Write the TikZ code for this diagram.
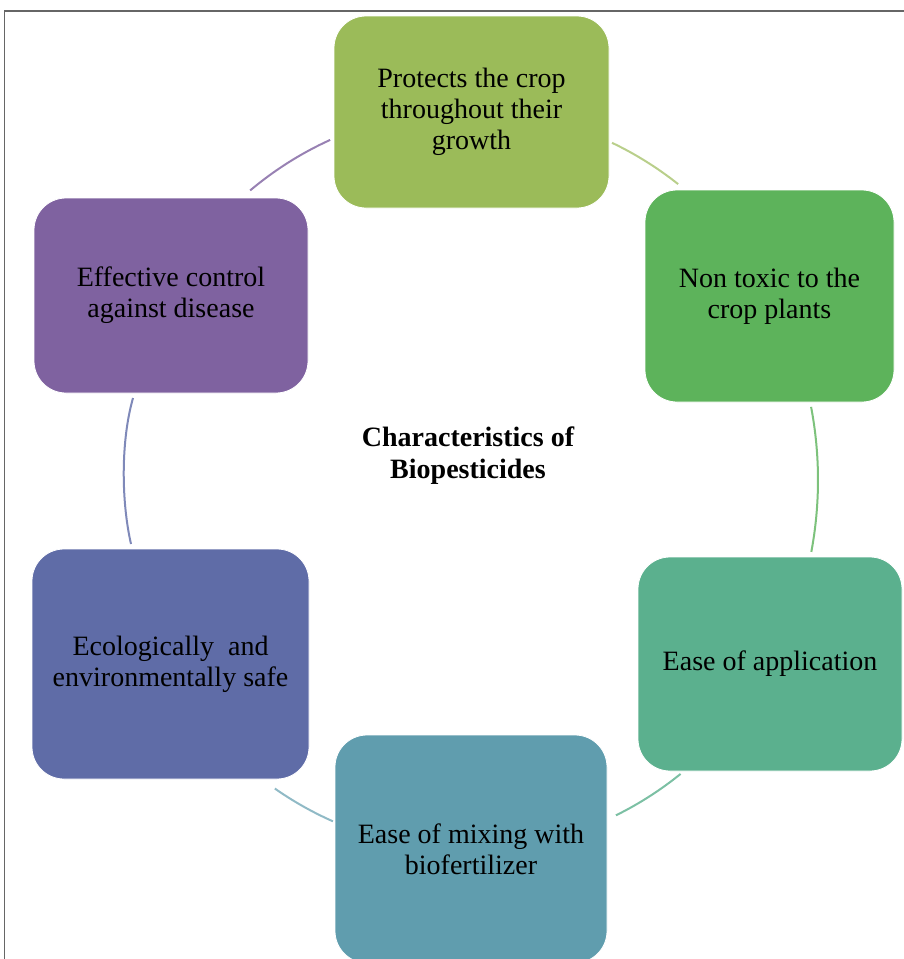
\documentclass[tikz,border=0pt]{standalone}
\usepackage{fontspec}
\setmainfont{Liberation Serif}
\definecolor{cA}{HTML}{9BBB59}
\definecolor{cB}{HTML}{5DB35B}
\definecolor{cC}{HTML}{5BB08E}
\definecolor{cD}{HTML}{609DAE}
\definecolor{cE}{HTML}{5F6CA7}
\definecolor{cF}{HTML}{7F62A0}
\tikzset{
  box/.style={rounded corners=32pt, draw=white, line width=0.8pt, align=center,
    font=\fontsize{28}{31}\selectfont, text=black, inner sep=0pt},
  link/.style={line width=2pt},
  title/.style={align=center, font=\fontsize{28}{32}\selectfont\bfseries}
}
\newcommand{\ellarc}[4]{% name, start angle, end angle, colour
  \coordinate (#1) at ({468+350*cos(#2)},{480+370*sin(#2)});
  \draw[link, #4] (#1) arc[start angle=#2, end angle=#3, x radius=350, y radius=370];
}
\begin{document}
\begin{tikzpicture}[x=1pt,y=-1pt]
\useasboundingbox (0,0) rectangle (904,959);
\draw[gray!80!black, line width=1.2pt] (4.5,959) -- (4.5,11) -- (904,11);
% boxes
\node[box, fill=cA, minimum width=275pt, minimum height=192pt] (protects) at (471.5,112) {Protects the crop\\throughout their\\growth};
\node[box, fill=cB, minimum width=249pt, minimum height=212pt] (nontoxic) at (769.5,296) {Non toxic to the\\crop plants};
\node[box, fill=cC, minimum width=264pt, minimum height=214pt] (easeapp) at (770,664) {Ease of application};
\node[box, fill=cD, minimum width=272pt, minimum height=228pt] (mixing) at (471,849) {Ease of mixing with\\biofertilizer};
\node[box, fill=cE, minimum width=277pt, minimum height=230pt] (eco) at (170.5,664) {Ecologically\ \ and\\environmentally safe};
\node[box, fill=cF, minimum width=274pt, minimum height=195pt] (effective) at (171,295.5) {Effective control\\against disease};
\node[title] (center) at (468,456) {Characteristics of\\Biopesticides};
% connectors along an ellipse centred at (468,480)
\ellarc{k1}{-65.7}{-53.1}{cA!70}
\ellarc{k2}{-11.4}{11.2}{cB!80}
\ellarc{k3}{52.6}{65}{cC!80}
\ellarc{k4}{112.7}{123.5}{cD!70}
\coordinate (k5a) at (131,544);
\coordinate (k5b) at (133,398);
\draw[link, cE!80] (k5a) .. controls (121,500) and (121,440) .. (k5b);
\ellarc{k6}{231.5}{246.8}{cF!80}
\end{tikzpicture}
\end{document}
